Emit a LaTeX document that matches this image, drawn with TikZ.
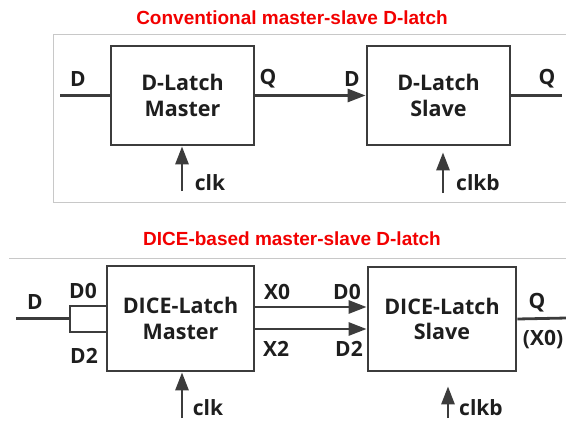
\documentclass[tikz,border=0pt]{standalone}
\usepackage{fontspec}
\setmainfont{Open Sans}
\newfontfamily\titlefont{Liberation Sans}
\usetikzlibrary{arrows.meta}
\definecolor{wirec}{HTML}{3C3C3C}
\definecolor{textc}{HTML}{1E1E1E}
\definecolor{framec}{HTML}{C8C8C8}
\definecolor{titlec}{HTML}{F20000}
\tikzset{
  blk/.style={draw=wirec, line width=2.8pt, fill=white, align=center, text=textc,
    font=\fontsize{21.5}{25.5}\selectfont\bfseries, inner sep=0pt},
  wire/.style={draw=wirec, line width=2.8pt},
  arr/.style={wire, -{Triangle[length=18pt,width=13pt]}},
  lbl/.style={text=textc, font=\fontsize{21}{22}\selectfont\bfseries, inner sep=0pt},
  ttl/.style={text=titlec, font=\titlefont\fontsize{19}{21}\selectfont\bfseries, inner sep=0pt},
  frame/.style={draw=framec, line width=1pt}
}
\begin{document}
\begin{tikzpicture}[x=1pt,y=-1pt]
\useasboundingbox (0,0) rectangle (566,423);
% titles
\node[ttl] (t1) at (292,18) {Conventional master-slave D-latch};
\node[ttl] (t2) at (292,239) {DICE-based master-slave D-latch};
% frames
\coordinate (f1) at (567,34);
\coordinate (f2) at (53,34);
\coordinate (f3) at (53,202);
\coordinate (f4) at (567,202);
\draw[frame] (f1) -- (f2) -- (f3) -- (f4);
\coordinate (g1) at (9,258);
\coordinate (g2) at (567,258);
\draw[frame] (g1) -- (g2);
% top section
\node[blk, minimum width=143pt, minimum height=99pt] (m1) at (182.5,95.5) {D-Latch\\Master};
\node[blk, minimum width=143pt, minimum height=99pt] (s1) at (438.5,95.5) {D-Latch\\Slave};
\coordinate (din1) at (60,95.5);
\coordinate (qo1) at (562,95.5);
\draw[wire] (din1) -- (m1.west);
\draw[arr] (m1.east) -- (s1.west);
\draw[wire] (s1.east) -- (qo1);
\coordinate (ck1) at (182,191);
\coordinate (ck2) at (443,193);
\draw[arr] (ck1) -- (ck1 |- m1.south);
\draw[arr, shorten >=6pt] (ck2) -- (ck2 |- s1.south);
\node[lbl] (lD1) at (78,79) {D};
\node[lbl] (lQ1) at (268,79) {Q};
\node[lbl] (lD2) at (352,79) {D};
\node[lbl] (lQ2) at (547,79) {Q};
\node[lbl] (lc1) at (210,183) {clk};
\node[lbl] (lc2) at (478,183) {clkb};
% bottom section
\node[blk, minimum width=147pt, minimum height=105pt] (m2) at (180.5,318.5) {DICE-Latch\\Master};
\node[blk, minimum width=148pt, minimum height=104pt] (s2) at (442,319) {DICE-Latch\\Slave};
\coordinate (din2) at (16,318.5);
\coordinate (fk) at (70,318.5);
\draw[wire] (din2) -- (fk);
\draw[wire] ([yshift=12.5pt]m2.west) -| (fk) |- ([yshift=-13.5pt]m2.west);
\draw[arr] ([yshift=11.5pt]m2.east) -- ([yshift=11.5pt]m2.east -| s2.west);
\draw[arr] ([yshift=-10.5pt]m2.east) -- ([yshift=-10.5pt]m2.east -| s2.west);
\coordinate (qo2) at (567,318);
\draw[wire] (s2.east) -- (qo2);
\coordinate (ck3) at (182,418);
\coordinate (ck4) at (448,418);
\draw[arr] (ck3) -- (ck3 |- m2.south);
\draw[arr, shorten >=14pt] (ck4) -- (ck4 |- s2.south);
\node[lbl] (lD3) at (35,302) {D};
\node[lbl] (lD4) at (83,291) {D0};
\node[lbl] (lD5) at (84,356) {D2};
\node[lbl] (lX0) at (277,292) {X0};
\node[lbl] (lX2) at (276,349) {X2};
\node[lbl] (lD6) at (347,292) {D0};
\node[lbl] (lD7) at (349,349) {D2};
\node[lbl] (lQ3) at (537,303) {Q};
\node[lbl] (lX3) at (543,340) {(X0)};
\node[lbl] (lc3) at (208,408) {clk};
\node[lbl] (lc4) at (481,408) {clkb};
\end{tikzpicture}
\end{document}
